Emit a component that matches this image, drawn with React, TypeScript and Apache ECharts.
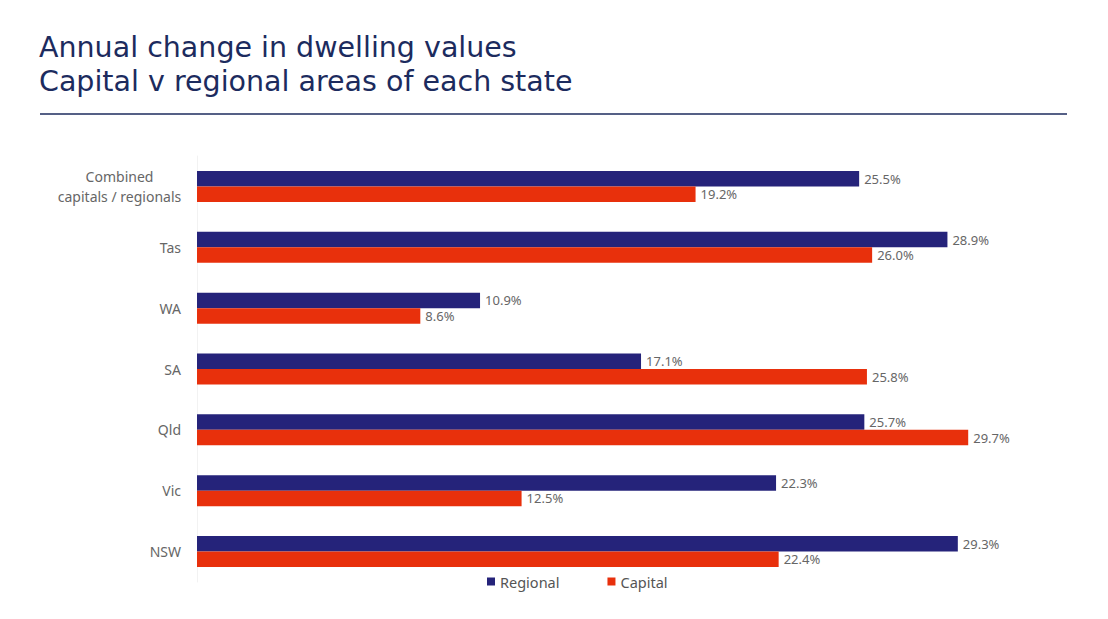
import React, { useEffect, useRef } from "react";
import * as echarts from "echarts";

const categories = ["NSW", "Vic", "Qld", "SA", "WA", "Tas", "Combined\ncapitals / regionals"];
const regionalValues = [29.3, 22.3, 25.7, 17.1, 10.9, 28.9, 25.5];
const capitalValues = [22.4, 12.5, 29.7, 25.8, 8.6, 26.0, 19.2];
const seriesNames = ["Regional", "Capital"];
const titleLines = ["Annual change in dwelling values", "Capital v regional areas of each state"];

const NAVY = "#25237a";
const RED = "#e8300c";
const FONT = "'Noto Sans', 'Open Sans', sans-serif";
const TITLE_FONT = "'DejaVu Sans', 'Noto Sans', sans-serif";

export default function App() {
  const ref = useRef<HTMLDivElement>(null);
  useEffect(() => {
    if (!ref.current) return;
    const chart = echarts.init(ref.current, null, { renderer: "svg" });
    const label = {
      show: true,
      position: "right",
      distance: 5,
      color: "#666",
      fontSize: 13,
      fontFamily: FONT,
      formatter: (p: any) => Number(p.value).toFixed(1) + "%",
    };
    chart.setOption({
      animation: false,
      backgroundColor: "#fff",
      textStyle: { fontFamily: FONT },
      graphic: [
        ...titleLines.map((t, i) => ({
          type: "text",
          x: 39,
          y: 47 + i * 34,
          style: {
            text: t,
            fill: "#1c2b5e",
            font: `normal 28.5px ${TITLE_FONT}`,
            verticalAlign: "middle",
          },
        })),
        {
          type: "line",
          shape: { x1: 40, y1: 114, x2: 1067, y2: 114 },
          style: { stroke: "#1c2b5e", lineWidth: 1.5 },
        },
      ],
      legend: {
        data: seriesNames,
        left: 487,
        top: 574,
        padding: 0,
        icon: "rect",
        itemWidth: 8,
        itemHeight: 8,
        itemGap: 48,
        textStyle: { color: "#555", fontSize: 14.5, fontFamily: FONT },
      },
      grid: { left: 197, top: 156, height: 426, width: 779 },
      xAxis: {
        type: "value",
        min: 0,
        max: 30,
        show: false,
        splitLine: { show: false },
      },
      yAxis: {
        type: "category",
        data: categories,
        axisLine: { show: true, lineStyle: { color: "#f2f2f2" } },
        axisTick: { show: false },
        axisLabel: {
          color: "#666",
          fontSize: 14,
          fontFamily: FONT,
          margin: 16,
          formatter: (v: string) => {
            if (v.indexOf("\n") >= 0) {
              return v
                .split("\n")
                .map((s) => `{c|${s}}`)
                .join("\n");
            }
            return v;
          },
          rich: {
            c: {
              width: 123,
              align: "center",
              color: "#666",
              fontSize: 14,
              fontFamily: FONT,
              lineHeight: 20,
            },
          },
        },
      },
      series: [
        {
          name: seriesNames[0],
          type: "bar",
          data: regionalValues,
          barWidth: 15.5,
          barGap: "0%",
          itemStyle: { color: NAVY },
          label,
        },
        {
          name: seriesNames[1],
          type: "bar",
          data: capitalValues,
          barWidth: 15.5,
          barGap: "0%",
          itemStyle: { color: RED },
          label,
        },
      ],
    });
    return () => chart.dispose();
  }, []);
  return <div ref={ref} style={{ width: 1108, height: 619, position: "absolute", left: 0, top: 0 }} />;
}
